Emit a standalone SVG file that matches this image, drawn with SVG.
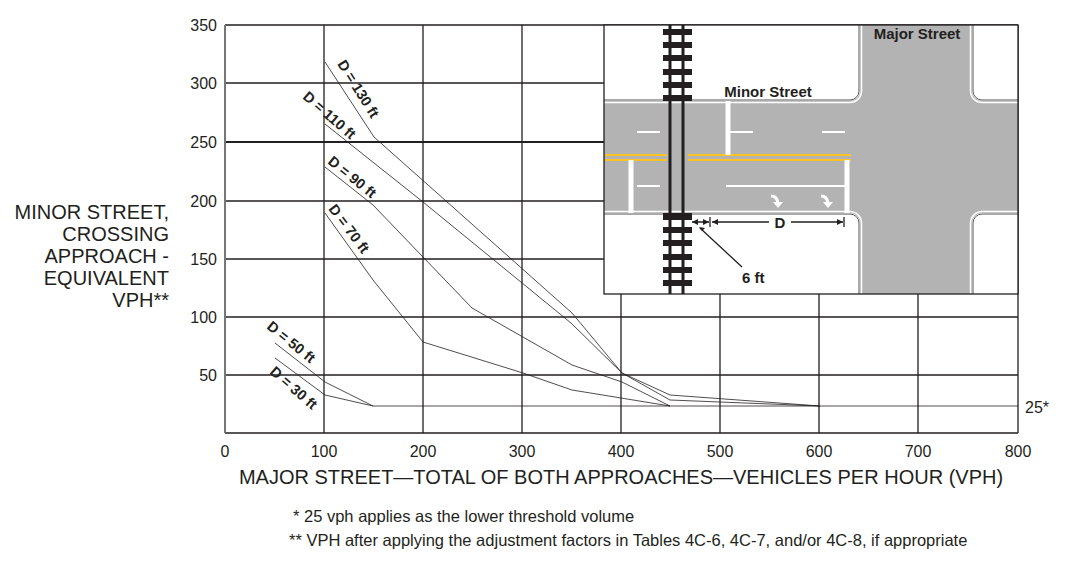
<svg xmlns="http://www.w3.org/2000/svg" width="1066" height="565" viewBox="0 0 1066 565">
<style>
text{font-family:"Liberation Sans",Arial,sans-serif;fill:#231f20}
.g{stroke:#231f20;stroke-width:1.3;fill:none}
.c{stroke:#231f20;stroke-width:0.8;fill:none}
.t{font-size:16px}
.f{font-size:16.5px}
.ax{font-size:20px}
.lab{font-size:14.5px;font-weight:bold}
.b{font-size:15px;font-weight:bold}
</style>
<rect width="1066" height="565" fill="#fff"/>
<g id="grid">
<path class="g" d="M225,25V433M324,25V433M423,25V433M522,25V433M621,25V433M720,25V433M819,25V433M918,25V433M1018,25V433M225,25H1018M225,83H1018M225,201H1018M225,259H1018M225,317H1018M225,375H1018M225,433H1018"/>
<path d="M225,142H1018" stroke="#231f20" stroke-width="2.2"/>
<line x1="225" y1="25" x2="225" y2="433" stroke="#777" stroke-width="2"/>
</g>
<g id="ylabels" class="t" text-anchor="end">
<text x="217" y="31">350</text><text x="217" y="89">300</text><text x="217" y="148">250</text><text x="217" y="207">200</text><text x="217" y="265">150</text><text x="217" y="323">100</text><text x="217" y="381">50</text>
</g>
<g id="xlabels" class="t" text-anchor="middle">
<text x="225" y="457">0</text><text x="324" y="457">100</text><text x="423" y="457">200</text><text x="522" y="457">300</text><text x="621" y="457">400</text><text x="720" y="457">500</text><text x="819" y="457">600</text><text x="918" y="457">700</text><text x="1018" y="457">800</text>
</g>
<g id="ytitle" class="ax" text-anchor="end">
<text x="169" y="219">MINOR STREET,</text><text x="169" y="241">CROSSING</text><text x="169" y="263">APPROACH -</text><text x="169" y="285">EQUIVALENT</text><text x="169" y="307">VPH**</text>
</g>
<text x="621" y="484" class="ax" text-anchor="middle">MAJOR STREET—TOTAL OF BOTH APPROACHES—VEHICLES PER HOUR (VPH)</text>
<text x="1025" y="413" class="t">25*</text>
<text x="293" y="522" class="f">*  25 vph applies as the lower threshold volume</text>
<text x="289" y="546" class="f">**  VPH after applying the adjustment factors in Tables 4C-6, 4C-7, and/or 4C-8, if appropriate</text>
<g id="connectors">
<polyline class="c" points="325,62 374,137 572,313 622,373 670,395 820,406"/>
<polyline class="c" points="325,124 423,202 571,323 622,373 670,400 820,406"/>
<polyline class="c" points="325,167 373,205 472,308 572,365 622,382 670,406"/>
<polyline class="c" points="325,213 373,280 423,342 523,373 572,390 670,406"/>
<polyline class="c" points="275,343 325,382 373,406"/>
<polyline class="c" points="275,358 325,395 373,406"/>
<line class="c" x1="373" y1="406" x2="1018" y2="406"/>
</g>
<g id="labels" class="lab">
<text transform="translate(337,64) rotate(58)">D = 130 ft</text>
<text transform="translate(302,98) rotate(41)">D = 110 ft</text>
<text transform="translate(327,163) rotate(39)">D = 90 ft</text>
<text transform="translate(328,209) rotate(53)">D = 70 ft</text>
<text transform="translate(266,328) rotate(39)">D = 50 ft</text>
<text transform="translate(269,373) rotate(41)">D = 30 ft</text>
</g>
<g id="inset">
<rect x="604" y="25" width="414" height="269" fill="#fff"/>
<path d="M604,101H850A10,10 0 0 0 860,91V25H972V91A10,10 0 0 0 982,101H1018V213H982A10,10 0 0 0 972,223V294H860V223A10,10 0 0 0 850,213H604Z" fill="#b3b3b3"/>
<path d="M604,102.5H850A11.5,11.5 0 0 0 861.5,91V25M970.5,25V91A11.5,11.5 0 0 0 982,102.5H1018M604,211.5H850A11.5,11.5 0 0 1 861.5,223V294M970.5,294V223A11.5,11.5 0 0 1 982,211.5H1018" stroke="#fff" stroke-width="1.5" fill="none"/>
<path d="M604,100H850A9,9 0 0 0 859,91V25M973,25V91A9,9 0 0 0 982,100H1018M604,214H850A9,9 0 0 1 859,223V294M973,294V223A9,9 0 0 1 982,214H1018" stroke="#555" stroke-width="1" fill="none"/>
<path d="M605,155H667M688,155H851M605,160H667M688,160H851" stroke="#fdc322" stroke-width="2.2"/>
<path d="M631,160V213M847,160V213M728,101V155" stroke="#fff" stroke-width="5"/>
<path d="M637,132H660M728,132H753M822,132H845M637,186H660M726,186H845" stroke="#fff" stroke-width="1.8"/>
<path d="M771,196q6,0 7,7M821,196q6,0 7,7" stroke="#fff" stroke-width="3" fill="none"/>
<path d="M773,202l10,0l-5,6zM823,202l10,0l-5,6z" fill="#fff"/>
<path d="M670,25V294M683,25V294" stroke="#231f20" stroke-width="3"/>
<g fill="#231f20">
<rect x="663" y="29" width="29" height="6"/><rect x="663" y="42" width="29" height="6"/><rect x="663" y="55" width="29" height="6"/><rect x="663" y="69" width="29" height="6"/><rect x="663" y="82" width="29" height="6"/><rect x="663" y="95" width="29" height="6"/>
<rect x="663" y="213" width="29" height="7"/><rect x="663" y="227" width="29" height="6"/><rect x="663" y="240" width="29" height="6"/><rect x="663" y="254" width="29" height="6"/><rect x="663" y="267" width="29" height="6"/><rect x="663" y="280" width="29" height="6"/>
</g>
<path d="M692,222H709M712,222H769M791,222H843M710,217V227M844,217V227M742,267L700,228" stroke="#231f20" stroke-width="1.3" fill="none"/>
<path d="M692,222l6,-3v6zM709,222l-6,-3v6zM712,222l6,-3v6zM843,222l-6,-3v6zM699,227l6,1l-3,3z" fill="#231f20"/>
<text x="780" y="228" class="b" text-anchor="middle">D</text>
<text x="742" y="283" class="b">6 ft</text>
<text x="768" y="97" class="b" text-anchor="middle">Minor Street</text>
<text x="917" y="39" class="b" text-anchor="middle">Major  Street</text>
<rect x="604" y="25" width="414" height="269" fill="none" stroke="#231f20" stroke-width="1.3"/>
</g>
</svg>
